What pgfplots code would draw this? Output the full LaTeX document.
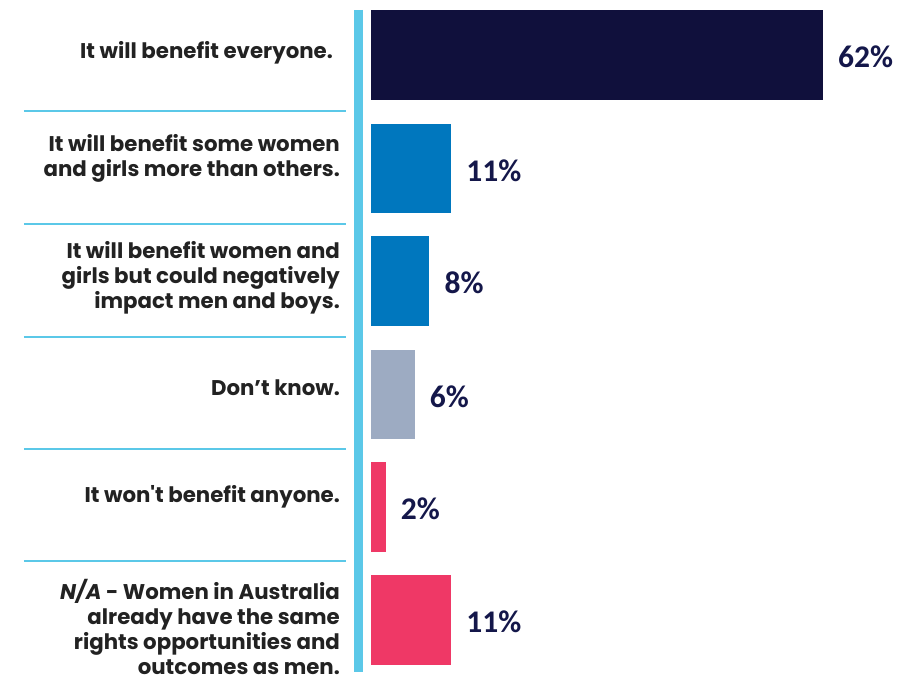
\documentclass[border=0pt]{standalone}
\usepackage{fontspec}
\setmainfont{Poppins}[Ligatures=TeXOff]
\newfontfamily\carlito{Carlito}
\usepackage{pgfplots}
\pgfplotsset{compat=1.18}
\definecolor{navy}{HTML}{10103C}
\definecolor{midblue}{HTML}{0077BE}
\definecolor{greyblue}{HTML}{9DABC2}
\definecolor{pink}{HTML}{EF3866}
\definecolor{sepcol}{HTML}{5BC8E8}
\definecolor{valcol}{HTML}{14174A}
\definecolor{labcol}{HTML}{222222}
\tikzset{
  vlab/.style={font=\carlito\bfseries\fontsize{31.5}{31.5}\selectfont, text=valcol, inner sep=0pt, xshift=15pt, yshift=-2pt, anchor=west},
  clab/.style={font=\bfseries\fontsize{21.3}{25}\selectfont, text=labcol, align=right, anchor=east, inner sep=0pt},
}
\begin{document}
\begin{tikzpicture}
\begin{axis}[
  width=918pt, height=672pt, scale only axis,
  xmin=-50.89, xmax=75.03, ymin=0, ymax=672, y dir=reverse,
  axis lines=none, ticks=none, clip=false,
  /pgf/number format/assume math mode=true,
  every axis plot/.append style={bar shift=0pt},
]
\path (rel axis cs:0,0) rectangle (rel axis cs:1,1);
% separators
\addplot[sepcol, line width=2.2pt] coordinates {(-47.6,111) (-3.43,111)};
\addplot[sepcol, line width=2.2pt] coordinates {(-47.6,224) (-3.43,224)};
\addplot[sepcol, line width=2.2pt] coordinates {(-47.6,337) (-3.43,337)};
\addplot[sepcol, line width=2.2pt] coordinates {(-47.6,449) (-3.43,449)};
\addplot[sepcol, line width=2.2pt] coordinates {(-47.6,561) (-3.43,561)};
% vertical axis bar
\addplot[sepcol, line width=9pt] coordinates {(-1.715,10) (-1.715,672)};
% bars
\addplot[xbar, bar width=90, fill=navy, draw=none, nodes near coords={\pgfmathprintnumber{\pgfplotspointmeta}\%}, nodes near coords style={vlab}] coordinates {(62,55)};
\addplot[xbar, bar width=89, fill=midblue, draw=none, nodes near coords={\pgfmathprintnumber{\pgfplotspointmeta}\%}, nodes near coords style={vlab}] coordinates {(11,168.5)};
\addplot[xbar, bar width=90, fill=midblue, draw=none, nodes near coords={\pgfmathprintnumber{\pgfplotspointmeta}\%}, nodes near coords style={vlab}] coordinates {(8,281)};
\addplot[xbar, bar width=89, fill=greyblue, draw=none, nodes near coords={\pgfmathprintnumber{\pgfplotspointmeta}\%}, nodes near coords style={vlab}] coordinates {(6,394.5)};
\addplot[xbar, bar width=90, fill=pink, draw=none, nodes near coords={\pgfmathprintnumber{\pgfplotspointmeta}\%}, nodes near coords style={vlab}] coordinates {(2,507)};
\addplot[xbar, bar width=90, fill=pink, draw=none, nodes near coords={\pgfmathprintnumber{\pgfplotspointmeta}\%}, nodes near coords style={vlab}] coordinates {(11,620)};
% category labels
\node[clab] at (axis cs:-5.21,53) {It will benefit everyone.};
\node[clab] at (axis cs:-4.25,158.5) {It will benefit some women\\and girls more than others.};
\node[clab] at (axis cs:-4.25,278) {It will benefit women and\\girls but could negatively\\impact men and boys.};
\node[clab] at (axis cs:-4.25,388) {Don’t know.};
\node[clab] at (axis cs:-4.25,496.5) {It won't benefit anyone.};
\node[clab] at (axis cs:-4.25,627) {\textit{N/A} - Women in Australia\\already have the same\\rights opportunities and\\outcomes as men.};
\end{axis}
\end{tikzpicture}
\end{document}
